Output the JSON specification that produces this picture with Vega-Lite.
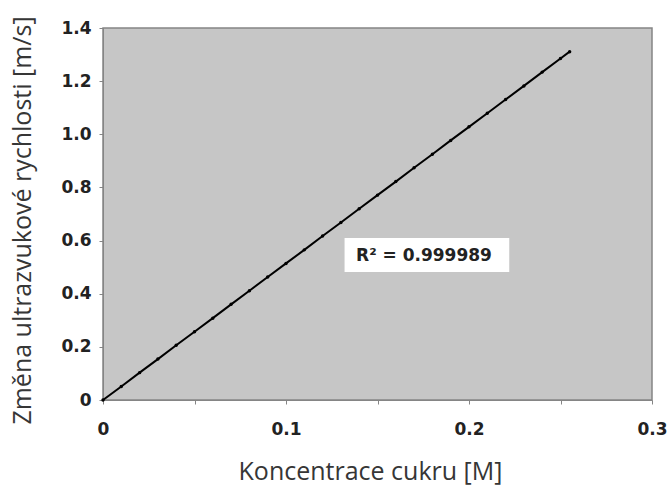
{
  "$schema": "https://vega.github.io/schema/vega-lite/v6.json",
  "width": 549,
  "height": 372,
  "autosize": "none",
  "padding": {"left": 103, "top": 28, "right": 18, "bottom": 86},
  "background": "white",
  "config": {
    "view": {"fill": "#c6c6c6", "stroke": "#858585", "strokeWidth": 1.5},
    "axis": {"grid": false, "domainColor": "#858585", "tickColor": "#858585", "tickSize": 4,
      "labelFont": "DejaVu Sans", "labelFontWeight": "bold", "labelFontSize": 17, "labelColor": "#222222",
      "titleFont": "Open Sans", "titleFontWeight": "normal", "titleFontSize": 25, "titleColor": "#363636"}
  },
  "datasets": {
    "pts": [
      {"c": 0, "v": 0},
      {"c": 0.01, "v": 0.051},
      {"c": 0.02, "v": 0.103},
      {"c": 0.03, "v": 0.154},
      {"c": 0.04, "v": 0.206},
      {"c": 0.05, "v": 0.257},
      {"c": 0.06, "v": 0.308},
      {"c": 0.07, "v": 0.36},
      {"c": 0.08, "v": 0.411},
      {"c": 0.09, "v": 0.463},
      {"c": 0.1, "v": 0.514},
      {"c": 0.11, "v": 0.565},
      {"c": 0.12, "v": 0.617},
      {"c": 0.13, "v": 0.668},
      {"c": 0.14, "v": 0.72},
      {"c": 0.15, "v": 0.771},
      {"c": 0.16, "v": 0.822},
      {"c": 0.17, "v": 0.874},
      {"c": 0.18, "v": 0.925},
      {"c": 0.19, "v": 0.977},
      {"c": 0.2, "v": 1.028},
      {"c": 0.21, "v": 1.079},
      {"c": 0.22, "v": 1.131},
      {"c": 0.23, "v": 1.182},
      {"c": 0.24, "v": 1.234},
      {"c": 0.25, "v": 1.285},
      {"c": 0.255, "v": 1.311}
    ],
    "note": [
      {"x1": 0.132, "x2": 0.222, "y1": 0.482, "y2": 0.61, "xc": 0.1754, "yc": 0.542, "label": "R² = 0.999989"}
    ]
  },
  "layer": [
    {
      "data": {"name": "pts"},
      "mark": {"type": "line", "color": "black", "strokeWidth": 2},
      "encoding": {
        "x": {"field": "c", "type": "quantitative",
          "scale": {"domain": [0, 0.3], "nice": false},
          "axis": {"values": [0, 0.05, 0.1, 0.15, 0.2, 0.25, 0.3], "format": "~g",
            "labelExpr": "round(datum.value*20) % 2 == 0 ? datum.label : ''",
            "labelPadding": 17, "title": "Koncentrace cukru [M]",
            "titleX": 267, "titleY": 71, "titleBaseline": "middle", "titleAnchor": "middle", "labelFlush": false}},
        "y": {"field": "v", "type": "quantitative",
          "scale": {"domain": [0, 1.4], "nice": false},
          "axis": {"values": [0, 0.2, 0.4, 0.6, 0.8, 1.0, 1.2, 1.4],
            "labelExpr": "datum.value == 0 ? '0' : format(datum.value, '.1f')",
            "labelPadding": 8, "title": "Změna ultrazvukové rychlosti [m/s]",
            "titleX": -81, "titleY": 192, "titleAngle": -90, "titleBaseline": "middle", "titleAnchor": "middle", "labelFlush": false}}
      }
    },
    {
      "data": {"name": "pts"},
      "mark": {"type": "point", "filled": true, "color": "black", "size": 12, "opacity": 1},
      "encoding": {
        "x": {"field": "c", "type": "quantitative"},
        "y": {"field": "v", "type": "quantitative"}
      }
    },
    {
      "data": {"name": "note"},
      "mark": {"type": "rect", "color": "white"},
      "encoding": {
        "x": {"field": "x1", "type": "quantitative"},
        "x2": {"field": "x2"},
        "y": {"field": "y1", "type": "quantitative"},
        "y2": {"field": "y2"}
      }
    },
    {
      "data": {"name": "note"},
      "mark": {"type": "text", "font": "DejaVu Sans", "fontWeight": "bold", "fontSize": 17, "color": "#222222"},
      "encoding": {
        "x": {"field": "xc", "type": "quantitative"},
        "y": {"field": "yc", "type": "quantitative"},
        "text": {"field": "label"}
      }
    }
  ]
}
